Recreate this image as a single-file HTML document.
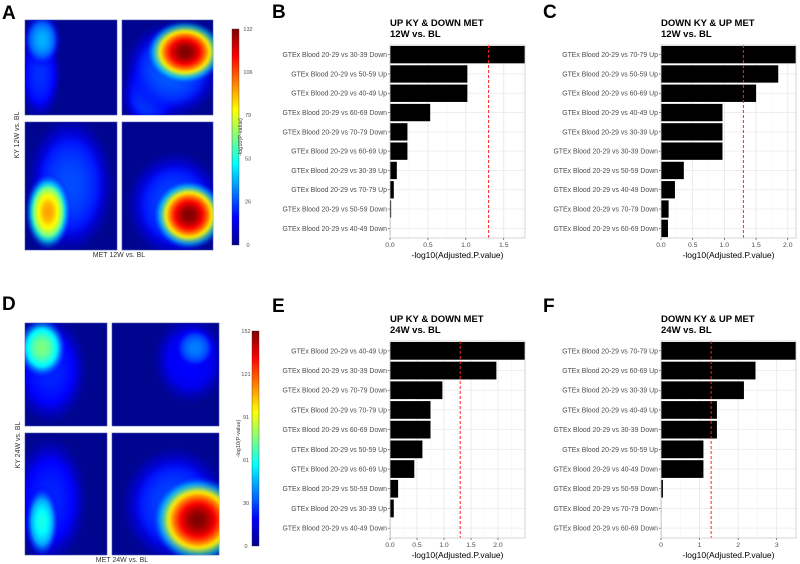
<!DOCTYPE html>
<html><head><meta charset="utf-8">
<style>
body{margin:0;background:#fff;font-family:"Liberation Sans",sans-serif;}
svg{display:block}
</style></head>
<body>
<svg id="fig" width="800" height="564" viewBox="0 0 800 564" xmlns="http://www.w3.org/2000/svg">
<defs id="defs">
<linearGradient id="jetbar" x1="0" y1="1" x2="0" y2="0">
<stop offset="0" stop-color="#00008f"/><stop offset="0.125" stop-color="#0000ff"/><stop offset="0.375" stop-color="#00ffff"/><stop offset="0.625" stop-color="#ffff00"/><stop offset="0.875" stop-color="#ff0000"/><stop offset="1" stop-color="#800000"/>
</linearGradient>
</defs>
<g id="heat"></g>
<g id="bars"></g>
<g font-weight="bold" font-size="19" fill="#000">
<text x="2" y="19">A</text>
<text x="272" y="18">B</text>
<text x="543" y="18">C</text>
<text x="2" y="310">D</text>
<text x="272" y="312">E</text>
<text x="543" y="312">F</text>
</g>
</svg>
<script>
const NS="http://www.w3.org/2000/svg";
function mk(tag,attrs,parent){const e=document.createElementNS(NS,tag);for(const k in attrs)e.setAttribute(k,attrs[k]);parent.appendChild(e);return e;}

// ---- bar chart data ----
const bLabels=["GTEx Blood 20-29 vs 30-39 Down","GTEx Blood 20-29 vs 50-59 Up","GTEx Blood 20-29 vs 40-49 Up","GTEx Blood 20-29 vs 60-69 Down","GTEx Blood 20-29 vs 70-79 Down","GTEx Blood 20-29 vs 60-69 Up","GTEx Blood 20-29 vs 30-39 Up","GTEx Blood 20-29 vs 70-79 Up","GTEx Blood 20-29 vs 50-59 Down","GTEx Blood 20-29 vs 40-49 Down"];
const bValues=[1.78,1.02,1.02,0.53,0.23,0.23,0.09,0.05,0.015,0.005];
const bTicks=[0,0.5,1.0,1.5];
const cLabels=["GTEx Blood 20-29 vs 70-79 Up","GTEx Blood 20-29 vs 50-59 Up","GTEx Blood 20-29 vs 60-69 Up","GTEx Blood 20-29 vs 40-49 Up","GTEx Blood 20-29 vs 30-39 Up","GTEx Blood 20-29 vs 30-39 Down","GTEx Blood 20-29 vs 50-59 Down","GTEx Blood 20-29 vs 40-49 Down","GTEx Blood 20-29 vs 70-79 Down","GTEx Blood 20-29 vs 60-69 Down"];
const cValues=[2.13,1.85,1.5,0.97,0.97,0.97,0.36,0.22,0.12,0.11];
const cTicks=[0,0.5,1.0,1.5,2.0];
const eLabels=["GTEx Blood 20-29 vs 40-49 Up","GTEx Blood 20-29 vs 30-39 Down","GTEx Blood 20-29 vs 70-79 Down","GTEx Blood 20-29 vs 70-79 Up","GTEx Blood 20-29 vs 60-69 Down","GTEx Blood 20-29 vs 50-59 Up","GTEx Blood 20-29 vs 60-69 Up","GTEx Blood 20-29 vs 50-59 Down","GTEx Blood 20-29 vs 30-39 Up","GTEx Blood 20-29 vs 40-49 Down"];
const eValues=[2.5,1.97,0.97,0.75,0.75,0.6,0.45,0.15,0.07,0.005];
const eTicks=[0,0.5,1.0,1.5,2.0];
const fLabels=["GTEx Blood 20-29 vs 70-79 Up","GTEx Blood 20-29 vs 60-69 Up","GTEx Blood 20-29 vs 30-39 Up","GTEx Blood 20-29 vs 40-49 Up","GTEx Blood 20-29 vs 30-39 Down","GTEx Blood 20-29 vs 50-59 Up","GTEx Blood 20-29 vs 40-49 Down","GTEx Blood 20-29 vs 50-59 Down","GTEx Blood 20-29 vs 70-79 Down","GTEx Blood 20-29 vs 60-69 Down"];
const fValues=[3.5,2.45,2.15,1.45,1.45,1.1,1.1,0.05,0.005,0.005];
const fTicks=[0,1,2,3];
const cutoff=1.3;

function tickFmt(t,ticks){return ticks.some(v=>v%1!==0)?t.toFixed(1):String(t);}

function barChart(id,title1,title2,labels,values,ticks,L,R,T,B,xmax){
  const g=mk('g',{},document.getElementById('bars'));
  
  
  const x=v=>L+(v/xmax)*(R-L);
  const n=labels.length,band=(B-T)/n;
  const y=i=>T+band*i;
  const minor=[];for(let i=0;i<ticks.length;i++){minor.push(ticks[i]);if(i<ticks.length-1)minor.push((ticks[i]+ticks[i+1])/2);else{const s=ticks[1]-ticks[0];if(ticks[i]+s/2<xmax)minor.push(ticks[i]+s/2);}}
  minor.forEach(v=>{const gl=mk('line',{x1:x(v),x2:x(v),y1:T,y2:B,stroke:ticks.includes(v)?'#e6e6e6':'#f2f2f2','stroke-width':ticks.includes(v)?0.8:0.5},g);
    });
  for(let i=0;i<n;i++){const hl=mk('line',{x1:L,x2:R,y1:y(i)+band/2,y2:y(i)+band/2,stroke:'#ebebeb','stroke-width':0.8},g);}
  values.forEach((v,i)=>{
    const r=mk('rect',{x:L,y:y(i)+band*0.05,width:Math.max(0.4,x(v)-L),height:band*0.9,fill:'#000'},g);
    
    
    const tl=mk('line',{x1:L-2,x2:L,y1:y(i)+band/2,y2:y(i)+band/2,stroke:'#333','stroke-width':0.6},g);
    
    const t=mk('text',{x:L-3,y:y(i)+band/2+2.4,'font-size':6.9,fill:'#4d4d4d','text-anchor':'end'},g);
    t.textContent=labels[i];
    
    
  });
  const d=mk('line',{x1:x(cutoff),x2:x(cutoff),y1:T,y2:B,stroke:'#ff2020','stroke-width':1,'stroke-dasharray':'3,2'},g);
  
  
  const fr=mk('rect',{x:L,y:T,width:R-L,height:B-T,fill:'none',stroke:'#cccccc','stroke-width':0.8},g);
  
  ticks.forEach(v=>{
    const tl=mk('line',{x1:x(v),x2:x(v),y1:B,y2:B+2,stroke:'#333','stroke-width':0.6},g);
    
    const t=mk('text',{x:x(v),y:B+9,'font-size':6.8,fill:'#4d4d4d','text-anchor':'middle'},g);
    t.textContent=tickFmt(v,ticks);
    
    
  });
  const xt=mk('text',{x:(L+R)/2,y:B+20,'font-size':8.5,fill:'#000','text-anchor':'middle'},g);
  xt.textContent='-log10(Adjusted.P.value)';
  
  
  [title1,title2].forEach((s,k)=>{
    const t=mk('text',{x:L,y:T-19+k*11,'font-size':9.5,'font-weight':'bold',fill:'#000'},g);
    t.textContent=s;
    
    
  });
}
barChart('chart-b','UP KY & DOWN MET','12W vs. BL',bLabels,bValues,bTicks,390,525,45,238,1.78);
barChart('chart-c','DOWN KY & UP MET','12W vs. BL',cLabels,cValues,cTicks,661,796,45,238,2.13);
barChart('chart-e','UP KY & DOWN MET','24W vs. BL',eLabels,eValues,eTicks,390,525,341,538,2.5);
barChart('chart-f','DOWN KY & UP MET','24W vs. BL',fLabels,fValues,fTicks,661,796,341,538,3.5);

// ---- heatmaps ----
function jet(v){
  const st=[[0,[0,0,143]],[0.125,[0,0,255]],[0.375,[0,255,255]],[0.625,[255,255,0]],[0.875,[255,0,0]],[1,[128,0,0]]];
  v=Math.max(0,Math.min(1,v));
  for(let i=0;i<st.length-1;i++){if(v<=st[i+1][0]){const f=(v-st[i][0])/(st[i+1][0]-st[i][0]);const a=st[i][1],b=st[i+1][1];return 'rgb('+a.map((c,k)=>Math.round(c+(b[k]-c)*f)).join(',')+')';}}
  return 'rgb(128,0,0)';
}
let gid=0;
const defs=document.getElementById('defs');
function blob(parent,clip,cx,cy,rx,ry,peak){
  const id='bg'+(gid++);
  const rg=mk('radialGradient',{id:id},defs);
  for(let o=0;o<=1.001;o+=0.05){
    const v=0.06+(peak-0.06)*(1-o*o);
    const op=o<0.6?1:Math.max(0,(1-o)/0.4);
    mk('stop',{offset:o.toFixed(2),'stop-color':jet(v),'stop-opacity':op.toFixed(2)},rg);
  }
  const e=mk('ellipse',{cx:cx,cy:cy,rx:rx,ry:ry,fill:'url(#'+id+')','clip-path':'url(#'+clip+')'},parent);
  
  
}
const heat=document.getElementById('heat');
function quad(name,x0,y0,x1,y1,blobs){
  const cid='c'+(gid++);
  const cp=mk('clipPath',{id:cid},defs);mk('rect',{x:x0,y:y0,width:x1-x0,height:y1-y0},cp);
  const r=mk('rect',{x:x0,y:y0,width:x1-x0,height:y1-y0,fill:'#00058f',stroke:'#4a55a8','stroke-width':0.6},heat);
  
  
  blobs.forEach(b=>blob(heat,cid,...b));
}
// A
quad('heatmap-a-top-left',25,20,117,115,[[40,75,22,45,0.17],[42,40,20,28,0.3]]);
quad('heatmap-a-top-right',122,20,213,115,[[150,95,30,38,0.2],[172,70,50,50,0.22],[185,52,40,33,1.0]]);
quad('heatmap-a-bottom-left',25,122,117,250,[[70,185,45,70,0.2],[48,212,24,40,0.72]]);
quad('heatmap-a-bottom-right',122,122,213,250,[[175,205,50,55,0.2],[189,215,37,36,1.0]]);
// D
quad('heatmap-d-top-left',25,323,107,426,[[50,370,38,55,0.16],[42,348,26,32,0.5]]);
quad('heatmap-d-top-right',112,323,219,426,[[190,360,38,45,0.13],[195,348,22,22,0.25]]);
quad('heatmap-d-bottom-left',25,433,107,555,[[50,500,38,65,0.16],[42,522,18,38,0.4]]);
quad('heatmap-d-bottom-right',112,433,219,555,[[175,505,55,60,0.2],[198,520,47,45,1.0]]);

// colorbars
function cbar(name,x,y0,y1,labels,labelSide){
  const g=mk('g',{},heat);
  mk('rect',{x:x,y:y0,width:7,height:y1-y0,fill:'url(#jetbar)',stroke:'#333','stroke-width':0.4},g);
  labels.forEach((s,i)=>{
    const yy=y1-(y1-y0)*i/(labels.length-1);
    const lx=labelSide==='right'?x+16:x-6;
    const t=mk('text',{x:lx,y:yy+1.8,'font-size':5.5,fill:'#4d4d4d','text-anchor':'middle'},g);
    t.textContent=s;
    
    
  });
  const tx=labelSide==='right'?x+10:x-12;
  const t=mk('text',{x:tx,y:(y0+y1)/2,'font-size':5.5,fill:'#333','text-anchor':'middle',transform:'rotate(-90 '+tx+' '+((y0+y1)/2)+')'},g);
  t.textContent='-log10(P-value)';
  
  
}
cbar('colorbar-a',232,29,245,['0','26','53','79','106','132'],'right');
cbar('colorbar-d',252,331,546,['0','30','61','91','121','152'],'left');

function axlabel(name,txt,x,y,rot){
  const t=mk('text',{x:x,y:y,'font-size':7,fill:'#333','text-anchor':'middle'},heat);
  if(rot)t.setAttribute('transform','rotate(-90 '+x+' '+y+')');
  t.textContent=txt;
  
  
}
axlabel('heatmap-a-x-title','MET 12W vs. BL',119,257,false);
axlabel('heatmap-a-y-title','KY 12W vs. BL',19,135,true);
axlabel('heatmap-d-x-title','MET 24W vs. BL',122,562,false);
axlabel('heatmap-d-y-title','KY 24W vs. BL',20,445,true);
</script>
</body></html>
